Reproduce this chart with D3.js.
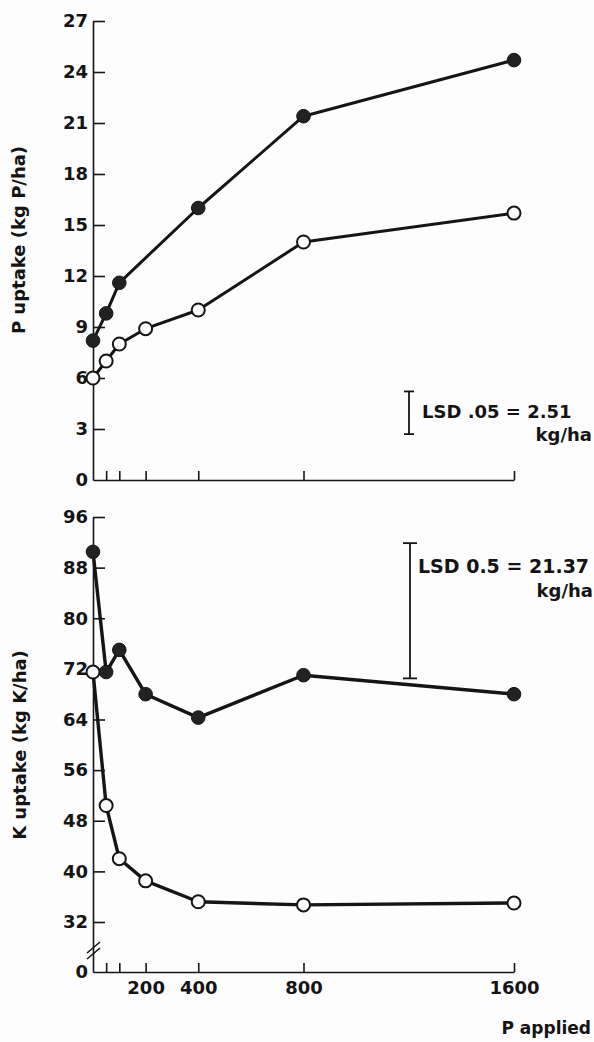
<!DOCTYPE html>
<html>
<head>
<meta charset="utf-8">
<script src="https://cdn.jsdelivr.net/npm/d3@7"></script>
<style>
  html, body { margin: 0; padding: 0; background: #fdfdfd; }
  svg { display: block; }
  text { font-family: "DejaVu Sans", "Liberation Sans", sans-serif; font-weight: bold; fill: #141414; }
</style>
</head>
<body>
<svg id="chart" width="594" height="1042"></svg>
<script>
// P application rates (kg P/ha)
const pApplied = [0, 50, 100, 200, 400, 800, 1600];
const pAppliedFilledP = [0, 50, 100, 400, 800, 1600];

// P uptake (kg P/ha)
const pUptakeFilled = [8.2, 9.8, 11.6, 16.0, 21.4, 24.7];
const pUptakeOpen = [6.0, 7.0, 8.0, 8.9, 10.0, 14.0, 15.7];

// K uptake (kg K/ha)
const kUptakeFilled = [90.5, 71.5, 75.0, 68.0, 64.3, 71.0, 68.0];
const kUptakeOpen = [71.5, 50.4, 42.0, 38.5, 35.2, 34.7, 35.0];

// Axis ticks
const pTicks = [0, 3, 6, 9, 12, 15, 18, 21, 24, 27];
const kTicks = [0, 32, 40, 48, 56, 64, 72, 80, 88, 96];
const xTickValues = [50, 100, 200, 400, 800, 1600];
const xTickLabels = ["", "", "200", "400", "800", "1600"];

// Least significant differences
const lsdP = 2.51;
const lsdK = 21.37;

const ink = "#151515";
const svg = d3.select("#chart");

const x = d3.scaleLinear().domain([0, 1600]).range([93, 514]);
const yP = d3.scaleLinear().domain([0, 27]).range([480, 21]);
// K axis is broken between 0 and 32
const yK = d3.scaleLinear().domain([0, 32, 96]).range([972, 922, 517]);

function styleAxis(g) {
  g.selectAll("path.domain").attr("stroke", ink).attr("stroke-width", 1.6);
  g.selectAll(".tick line").attr("stroke", ink).attr("stroke-width", 1.6);
  g.selectAll(".tick text").attr("font-size", 18).attr("fill", ink)
    .attr("font-family", "DejaVu Sans, sans-serif").attr("font-weight", "bold");
}

// ---------- top panel: P uptake ----------
const gPy = svg.append("g").attr("transform", `translate(${x(0)},0)`)
  .call(d3.axisLeft(yP).tickValues(pTicks).tickSize(-12).tickSizeOuter(0).tickPadding(5))
  .call(styleAxis);
gPy.selectAll(".tick").filter(d => d === 0).select("line").remove();

svg.append("g").attr("transform", `translate(0,${yP(0)})`)
  .call(d3.axisBottom(x).tickValues(xTickValues).tickSize(-9).tickSizeOuter(0).tickFormat(() => ""))
  .call(styleAxis);

svg.append("text")
  .attr("transform", `translate(25,240) rotate(-90)`)
  .attr("text-anchor", "middle").attr("font-size", 18)
  .text("P uptake (kg P/ha)");

const lineP = d3.line().x(d => x(d[0])).y(d => yP(d[1]));
const pFilled = pAppliedFilledP.map((r, i) => [r, pUptakeFilled[i]]);
const pOpen = pApplied.map((r, i) => [r, pUptakeOpen[i]]);

svg.append("path").datum(pFilled).attr("d", lineP)
  .attr("fill", "none").attr("stroke", ink).attr("stroke-width", 3).attr("stroke-linejoin", "round");
svg.append("path").datum(pOpen).attr("d", lineP)
  .attr("fill", "none").attr("stroke", ink).attr("stroke-width", 3).attr("stroke-linejoin", "round");

svg.append("g").selectAll("circle").data(pFilled).join("circle")
  .attr("cx", d => x(d[0])).attr("cy", d => yP(d[1])).attr("r", 6.8)
  .attr("fill", "#222").attr("stroke", ink).attr("stroke-width", 1);
svg.append("g").selectAll("circle").data(pOpen).join("circle")
  .attr("cx", d => x(d[0])).attr("cy", d => yP(d[1])).attr("r", 6.5)
  .attr("fill", "#fdfdfd").attr("stroke", ink).attr("stroke-width", 2);

// LSD bar, P panel
const lsdPBase = 2.7;
const lsdPx = 409;
const gLsdP = svg.append("g").attr("stroke", ink).attr("stroke-width", 1.8);
gLsdP.append("line").attr("x1", lsdPx).attr("x2", lsdPx)
  .attr("y1", yP(lsdPBase)).attr("y2", yP(lsdPBase + lsdP));
[lsdPBase, lsdPBase + lsdP].forEach(v => {
  gLsdP.append("line").attr("x1", lsdPx - 5).attr("x2", lsdPx + 5)
    .attr("y1", yP(v)).attr("y2", yP(v));
});
svg.append("text").attr("x", 422).attr("y", 418).attr("font-size", 18)
  .text(`LSD .05 = ${lsdP.toFixed(2)}`);
svg.append("text").attr("x", 592).attr("y", 441).attr("font-size", 18)
  .attr("text-anchor", "end").text("kg/ha");

// ---------- bottom panel: K uptake ----------
const gKy = svg.append("g").attr("transform", `translate(${x(0)},0)`)
  .call(d3.axisLeft(yK).tickValues(kTicks).tickSize(-12).tickSizeOuter(0).tickPadding(5))
  .call(styleAxis);
gKy.selectAll(".tick").filter(d => d === 0).select("line").remove();

// axis break marks
const brk = svg.append("g").attr("stroke", ink).attr("stroke-width", 1.6);
[0, 6].forEach(o => {
  brk.append("line").attr("x1", 87).attr("y1", 953 + o).attr("x2", 100).attr("y2", 942 + o);
});

svg.append("g").attr("transform", `translate(0,${yK(0)})`)
  .call(d3.axisBottom(x).tickValues(xTickValues).tickSize(-9).tickSizeOuter(0).tickPadding(9)
    .tickFormat((d, i) => xTickLabels[i]))
  .call(styleAxis);

svg.append("text")
  .attr("transform", `translate(26,745) rotate(-90)`)
  .attr("text-anchor", "middle").attr("font-size", 18)
  .text("K uptake (kg K/ha)");

svg.append("text").attr("x", 591).attr("y", 1034).attr("font-size", 17)
  .attr("text-anchor", "end").text("P applied");

const lineK = d3.line().x(d => x(d[0])).y(d => yK(d[1]));
const kFilled = pApplied.map((r, i) => [r, kUptakeFilled[i]]);
const kOpen = pApplied.map((r, i) => [r, kUptakeOpen[i]]);

svg.append("path").datum(kFilled).attr("d", lineK)
  .attr("fill", "none").attr("stroke", ink).attr("stroke-width", 3.4).attr("stroke-linejoin", "round");
svg.append("path").datum(kOpen).attr("d", lineK)
  .attr("fill", "none").attr("stroke", ink).attr("stroke-width", 3.4).attr("stroke-linejoin", "round");

svg.append("g").selectAll("circle").data(kFilled).join("circle")
  .attr("cx", d => x(d[0])).attr("cy", d => yK(d[1])).attr("r", 6.8)
  .attr("fill", "#222").attr("stroke", ink).attr("stroke-width", 1);
svg.append("g").selectAll("circle").data(kOpen).join("circle")
  .attr("cx", d => x(d[0])).attr("cy", d => yK(d[1])).attr("r", 6.5)
  .attr("fill", "#fdfdfd").attr("stroke", ink).attr("stroke-width", 2);

// LSD bar, K panel
const lsdKBase = 70.5;
const lsdKx = 410;
const gLsdK = svg.append("g").attr("stroke", ink).attr("stroke-width", 1.8);
gLsdK.append("line").attr("x1", lsdKx).attr("x2", lsdKx)
  .attr("y1", yK(lsdKBase)).attr("y2", yK(lsdKBase + lsdK));
[lsdKBase, lsdKBase + lsdK].forEach(v => {
  gLsdK.append("line").attr("x1", lsdKx - 7).attr("x2", lsdKx + 7)
    .attr("y1", yK(v)).attr("y2", yK(v));
});
svg.append("text").attr("x", 418).attr("y", 573).attr("font-size", 19)
  .text(`LSD 0.5 = ${lsdK.toFixed(2)}`);
svg.append("text").attr("x", 593).attr("y", 597).attr("font-size", 18)
  .attr("text-anchor", "end").text("kg/ha");
</script>
</body>
</html>
